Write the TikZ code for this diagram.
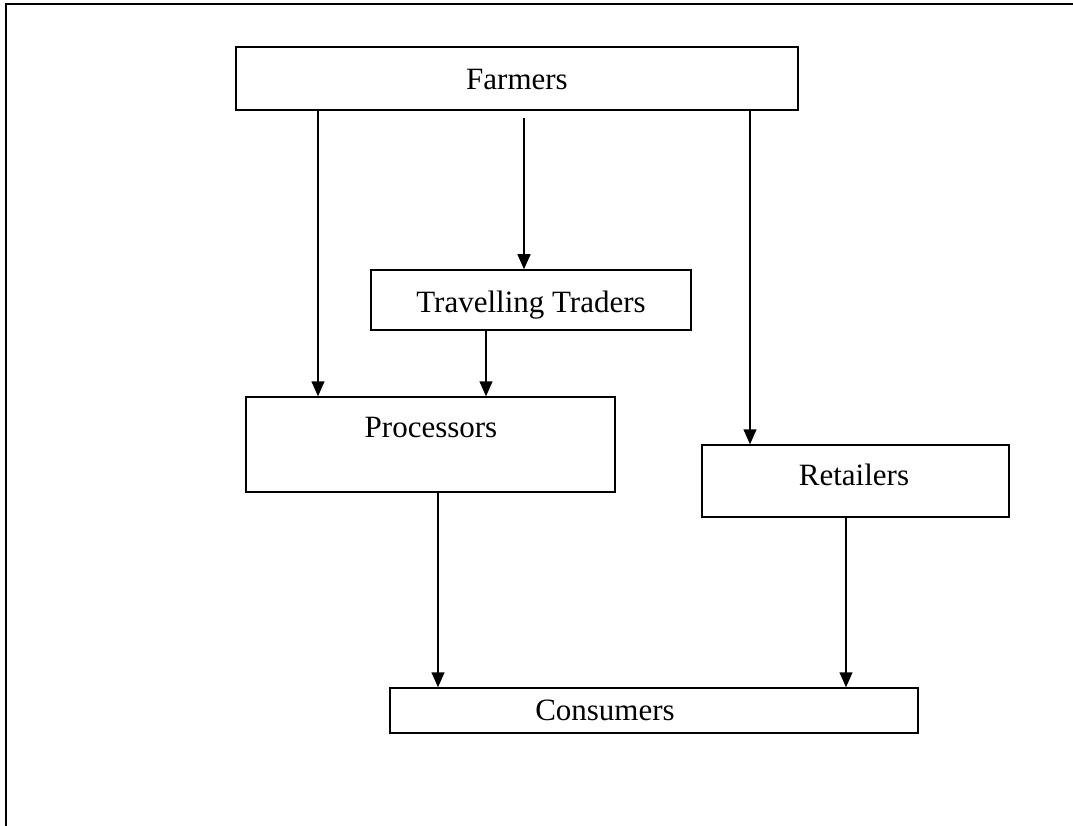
\documentclass[tikz,border=0pt]{standalone}
\usepackage{fontspec}
\setmainfont{Liberation Serif}
\usetikzlibrary{arrows.meta,fit}
\begin{document}
\begin{tikzpicture}[x=1pt,y=-1pt,
  box/.style={draw, line width=1.5pt, inner sep=0pt},
  lbl/.style={anchor=base, inner sep=0pt, font=\fontsize{31}{37}\selectfont},
  arr/.style={line width=1.5pt, -{Triangle[width=13pt,length=15pt]}},
  frame/.style={line width=2pt}]
\useasboundingbox (0,0) rectangle (1073,826);
% outer frame (top and left only)
\coordinate (fTL) at (5.5,4.5);
\coordinate (fTR) at (1073,4.5);
\coordinate (fBL) at (5.5,826);
\draw[frame] (fTR) -- (fTL) -- (fBL);
% boxes
\node[box, fit={(236,47) (798,110)}] (farmers) {};
\node[box, fit={(371,270) (691,330)}] (tt) {};
\node[box, fit={(246,397) (615,492)}] (proc) {};
\node[box, fit={(702,445) (1009,517)}] (ret) {};
\node[box, fit={(390,688) (918,733)}] (cons) {};
% labels
\node[lbl] (farmersT) at (517,90) {Farmers};
\node[lbl] (ttT) at (531,312) {Travelling Traders};
\node[lbl] (procT) at (431,437) {Processors};
\node[lbl] (retT) at (854,485) {Retailers};
\node[lbl] (consT) at (605,720) {Consumers};
% arrow x positions
\coordinate (xa) at (318,0);
\coordinate (xm) at (524,118);
\coordinate (xr) at (750,0);
\coordinate (xt) at (486,0);
\coordinate (xp) at (438,0);
\coordinate (xc) at (846,0);
\draw[arr] (farmers.south -| xa) -- (proc.north -| xa);
\draw[arr] (xm) -- (tt.north -| xm);
\draw[arr] (farmers.south -| xr) -- (ret.north -| xr);
\draw[arr] (tt.south -| xt) -- (proc.north -| xt);
\draw[arr] (proc.south -| xp) -- (cons.north -| xp);
\draw[arr] (ret.south -| xc) -- (cons.north -| xc);
\end{tikzpicture}
\end{document}
